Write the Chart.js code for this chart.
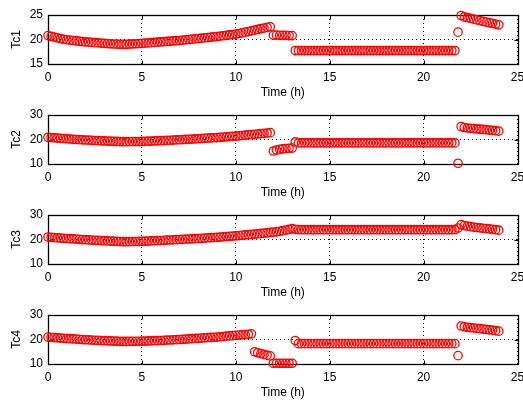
<!DOCTYPE html>
<html>
<head>
<meta charset="utf-8">
<script src="https://cdn.jsdelivr.net/npm/chart.js@4"></script>
<style>
  html, body { margin: 0; padding: 0; background: #fff; }
  #wrap { width: 523px; height: 400px; }
  canvas { display: block; }
</style>
</head>
<body>
<div id="wrap">
  <canvas id="c1" width="523" height="100"></canvas>
  <canvas id="c2" width="523" height="100"></canvas>
  <canvas id="c3" width="523" height="100"></canvas>
  <canvas id="c4" width="523" height="100"></canvas>
</div>
<script>
'use strict';

// Logger sampled every 10 minutes, 0 h .. 24 h (145 samples)
const SAMPLE_STEP_H = 10 / 60;
const SAMPLE_COUNT  = 145;

const X_TICKS = [0, 5, 10, 15, 20, 25];
const Y_TICKS_TC1 = [15, 20, 25];
const Y_TICKS_TC  = [10, 20, 30];
const X_TITLE = 'Time (h)';
const Y_TITLES = ['Tc1', 'Tc2', 'Tc3', 'Tc4'];

// Tc1 (one row per hour where possible)
const TC1 = [
  20.8, 20.65, 20.5, 20.35, 20.2, 20.05,
  19.95, 19.87, 19.8, 19.72, 19.65, 19.57,
  19.5, 19.45, 19.4, 19.35, 19.3, 19.25,
  19.2, 19.16, 19.12, 19.08, 19.05, 19.02,
  19.0, 19.02, 19.05, 19.09, 19.13, 19.17,
  19.2, 19.25, 19.3, 19.35, 19.4, 19.45,
  19.5, 19.55, 19.6, 19.65, 19.7, 19.75,
  19.8, 19.87, 19.93, 20.0, 20.07, 20.13,
  20.2, 20.27, 20.33, 20.4, 20.47, 20.53,
  20.6, 20.68, 20.77, 20.85, 20.93, 21.02,
  21.1, 21.22, 21.35, 21.5, 21.62, 21.75,
  21.9, 22.05, 22.2, 22.33, 22.47, 22.6,
  20.9, 20.9, 20.85, 20.85, 20.85, 20.8, 20.8,
  17.75, 17.75, 17.75, 17.75, 17.75, 17.75, 17.75, 17.75, 17.75, 17.75,
  17.75, 17.75, 17.75, 17.75, 17.75, 17.75, 17.75, 17.75, 17.75, 17.75,
  17.75, 17.75, 17.75, 17.75, 17.75, 17.75, 17.75, 17.75, 17.75, 17.75,
  17.75, 17.75, 17.75, 17.75, 17.75, 17.75, 17.75, 17.75, 17.75, 17.75,
  17.75, 17.75, 17.75, 17.75, 17.75, 17.75, 17.75, 17.75, 17.75, 17.75,
  17.75, 17.75,
  21.5,
  24.9, 24.6, 24.45, 24.3, 24.15, 24.0, 23.85, 23.7, 23.55, 23.4, 23.3, 23.15, 23.0
];

const TC2 = [
  20.9, 20.8, 20.7, 20.6, 20.5, 20.4,
  20.3, 20.2, 20.1, 20.0, 19.95, 19.88,
  19.8, 19.73, 19.66, 19.6, 19.53, 19.46,
  19.4, 19.35, 19.3, 19.25, 19.2, 19.15,
  19.1, 19.1, 19.12, 19.14, 19.16, 19.18,
  19.2, 19.25, 19.3, 19.35, 19.4, 19.45,
  19.5, 19.57, 19.63, 19.7, 19.77, 19.83,
  19.9, 19.97, 20.03, 20.1, 20.17, 20.23,
  20.3, 20.38, 20.47, 20.55, 20.63, 20.72,
  20.8, 20.9, 21.0, 21.1, 21.2, 21.3,
  21.4, 21.52, 21.63, 21.75, 21.87, 21.98,
  22.1, 22.25, 22.38, 22.52, 22.66, 22.8,
  15.3, 15.7, 16.0, 16.2, 16.3, 16.4, 16.5,
  19.0,
  18.6, 18.6, 18.6, 18.6, 18.6, 18.6, 18.6, 18.6, 18.6, 18.6,
  18.6, 18.6, 18.6, 18.6, 18.6, 18.6, 18.6, 18.6, 18.6, 18.6,
  18.6, 18.6, 18.6, 18.6, 18.6, 18.6, 18.6, 18.6, 18.6, 18.6,
  18.6, 18.6, 18.6, 18.6, 18.6, 18.6, 18.6, 18.6, 18.6, 18.6,
  18.6, 18.6, 18.6, 18.6, 18.6, 18.6, 18.6, 18.6, 18.6, 18.6,
  18.6,
  10.3,
  25.3, 24.9, 24.7, 24.55, 24.45, 24.3, 24.2, 24.1, 24.0, 23.85, 23.7, 23.6, 23.45
];

const TC3 = [
  21.0, 20.9, 20.8, 20.7, 20.6, 20.5,
  20.4, 20.32, 20.23, 20.15, 20.07, 19.98,
  19.9, 19.83, 19.76, 19.7, 19.63, 19.56,
  19.5, 19.43, 19.37, 19.3, 19.23, 19.17,
  19.1, 19.1, 19.12, 19.15, 19.18, 19.22,
  19.25, 19.3, 19.35, 19.42, 19.48, 19.54,
  19.6, 19.67, 19.73, 19.8, 19.87, 19.93,
  20.0, 20.07, 20.13, 20.2, 20.27, 20.33,
  20.4, 20.48, 20.57, 20.65, 20.73, 20.82,
  20.9, 21.0, 21.1, 21.2, 21.3, 21.4,
  21.5, 21.62, 21.73, 21.85, 21.97, 22.08,
  22.2, 22.33, 22.47, 22.6, 22.73, 22.87,
  23.0, 23.15, 23.35, 23.6, 23.85, 24.1, 24.4,
  24.15, 24.05, 24.0, 24.0, 24.0, 24.0, 24.0, 24.0, 24.0, 24.0,
  24.0, 24.0, 24.0, 24.0, 24.0, 24.0, 24.0, 24.0, 24.0, 24.0,
  24.0, 24.0, 24.0, 24.0, 24.0, 24.0, 24.0, 24.0, 24.0, 24.0,
  24.0, 24.0, 24.0, 24.0, 24.0, 24.0, 24.0, 24.0, 24.0, 24.0,
  24.0, 24.0, 24.0, 24.0, 24.0, 24.0, 24.0, 24.0, 24.0, 24.0,
  24.0, 24.0,
  24.7,
  26.1, 25.7, 25.45, 25.25, 25.05, 24.9, 24.75, 24.6, 24.45, 24.3, 24.15, 24.0, 23.8
];

const TC4 = [
  21.0, 20.9, 20.8, 20.7, 20.6, 20.5,
  20.4, 20.32, 20.23, 20.15, 20.07, 19.98,
  19.9, 19.83, 19.76, 19.7, 19.63, 19.56,
  19.5, 19.45, 19.4, 19.35, 19.3, 19.25,
  19.2, 19.2, 19.22, 19.24, 19.26, 19.28,
  19.3, 19.35, 19.4, 19.45, 19.5, 19.55,
  19.6, 19.67, 19.73, 19.8, 19.87, 19.93,
  20.0, 20.08, 20.17, 20.25, 20.33, 20.42,
  20.5, 20.58, 20.67, 20.75, 20.83, 20.92,
  21.0, 21.12, 21.23, 21.35, 21.47, 21.58,
  21.7, 21.8, 21.9, 22.0, 22.15, 22.3,
  15.0, 14.6, 14.25, 13.9, 13.6, 13.3,
  10.3, 10.3, 10.3, 10.3, 10.3, 10.3, 10.3,
  19.6,
  18.3, 18.3, 18.3, 18.3, 18.3, 18.3, 18.3, 18.3, 18.3, 18.3,
  18.3, 18.3, 18.3, 18.3, 18.3, 18.3, 18.3, 18.3, 18.3, 18.3,
  18.3, 18.3, 18.3, 18.3, 18.3, 18.3, 18.3, 18.3, 18.3, 18.3,
  18.3, 18.3, 18.3, 18.3, 18.3, 18.3, 18.3, 18.3, 18.3, 18.3,
  18.3, 18.3, 18.3, 18.3, 18.3, 18.3, 18.3, 18.3, 18.3, 18.3,
  18.3,
  13.4,
  25.5, 25.2, 25.0, 24.85, 24.7, 24.55, 24.4, 24.25, 24.1, 23.95, 23.8, 23.6, 23.4
];

const FONT = { family: '"Liberation Sans", Arial, sans-serif', size: 12 };

// Axes box like MATLAB: full frame plus short inward tick marks
const axesFrame = {
  id: 'axesFrame',
  beforeDatasetsDraw(chart) {
    const { ctx, chartArea: a, scales: { x, y } } = chart;
    const l = Math.round(a.left) + 0.5, r = Math.round(a.right) + 0.5;
    const t = Math.round(a.top) + 0.5,  b = Math.round(a.bottom) + 0.5;
    ctx.save();
    ctx.strokeStyle = '#000';
    ctx.lineWidth = 1;
    ctx.beginPath();
    x.ticks.forEach(tk => {
      const px = Math.round(x.getPixelForValue(tk.value)) + 0.5;
      ctx.moveTo(px, t); ctx.lineTo(px, t + 4);
      ctx.moveTo(px, b); ctx.lineTo(px, b - 4);
    });
    y.ticks.forEach(tk => {
      const py = Math.round(y.getPixelForValue(tk.value)) + 0.5;
      ctx.moveTo(l, py); ctx.lineTo(l + 4, py);
      ctx.moveTo(r, py); ctx.lineTo(r - 4, py);
    });
    ctx.stroke();
    ctx.lineWidth = 1.3;
    ctx.strokeRect(l, t, r - l, b - t);
    ctx.restore();
  }
};

function punkte(werte) {
  return werte.map((v, i) => ({ x: i * SAMPLE_STEP_H, y: v }));
}

function subplot(canvasId, titel, werte, yTicks) {
  return new Chart(document.getElementById(canvasId), {
    type: 'scatter',
    data: {
      datasets: [{
        data: punkte(werte.slice(0, SAMPLE_COUNT)),
        showLine: false,
        pointStyle: 'circle',
        pointRadius: 4.2,
        pointHoverRadius: 4.2,
        pointBorderWidth: 1.3,
        pointBorderColor: '#ff0000',
        pointBackgroundColor: 'rgba(0,0,0,0)',
        clip: false,
      }],
    },
    options: {
      responsive: false,
      animation: false,
      events: [],
      layout: { padding: { top: 15, right: 5, left: 0, bottom: 0 } },
      plugins: { legend: { display: false }, tooltip: { enabled: false } },
      scales: {
        x: {
          type: 'linear',
          min: X_TICKS[0],
          max: X_TICKS[X_TICKS.length - 1],
          afterBuildTicks(scale) { scale.ticks = X_TICKS.map(v => ({ value: v })); },
          // the "25" label may run past the canvas edge, as in the original
          afterFit(scale) { scale.height = 36; scale.paddingLeft = 0; scale.paddingRight = 0; },
          grid: { color: '#000', lineWidth: 1, drawTicks: false },
          border: { display: false, dash: [1, 3] },
          ticks: { color: '#000', font: FONT, padding: 6, maxRotation: 0 },
          title: { display: true, text: X_TITLE, color: '#000', font: FONT,
                   padding: { top: 0, bottom: 0 } },
        },
        y: {
          type: 'linear',
          min: yTicks[0],
          max: yTicks[yTicks.length - 1],
          afterBuildTicks(scale) { scale.ticks = yTicks.map(v => ({ value: v })); },
          afterFit(scale) { scale.width = 48; scale.paddingTop = 0; scale.paddingBottom = 0; },
          grid: { color: '#000', lineWidth: 1, drawTicks: false },
          border: { display: false, dash: [1, 3] },
          ticks: { color: '#000', font: FONT, padding: 5 },
          title: { display: true, text: titel, color: '#000', font: FONT,
                   padding: { top: 9, bottom: 0 } },
        },
      },
    },
    plugins: [axesFrame],
  });
}

subplot('c1', Y_TITLES[0], TC1, Y_TICKS_TC1);
subplot('c2', Y_TITLES[1], TC2, Y_TICKS_TC);
subplot('c3', Y_TITLES[2], TC3, Y_TICKS_TC);
subplot('c4', Y_TITLES[3], TC4, Y_TICKS_TC);
</script>
</body>
</html>
